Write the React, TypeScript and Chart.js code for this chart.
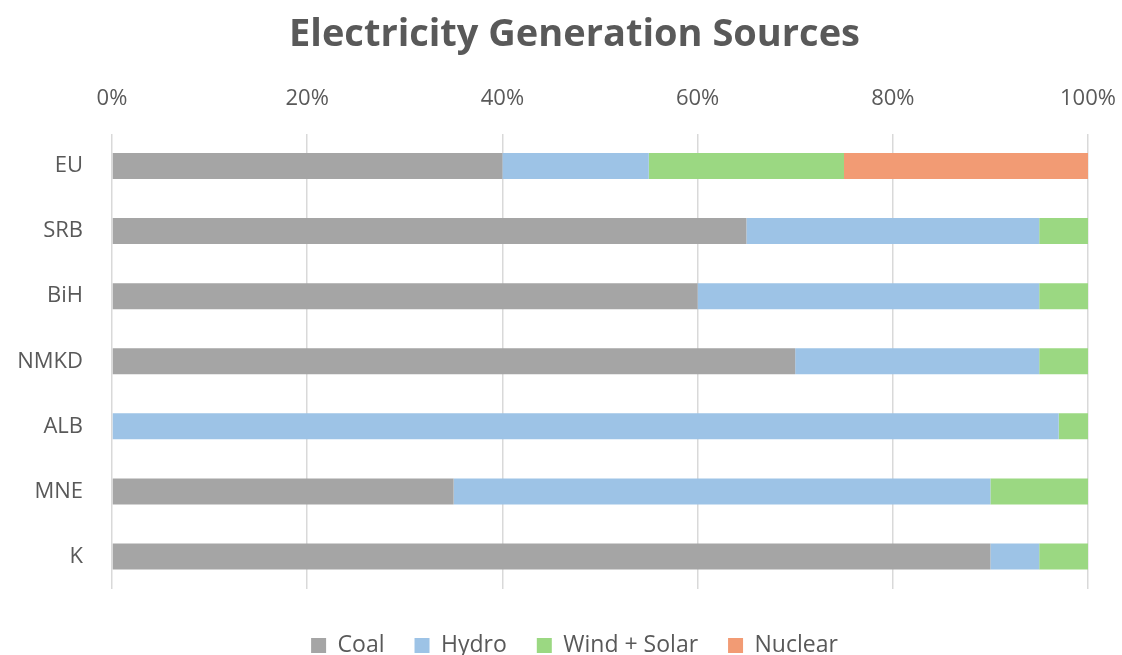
import React, { useEffect, useRef } from "react";
import { Chart, registerables } from "chart.js";

Chart.register(...registerables);

const categories = ["EU", "SRB", "BiH", "NMKD", "ALB", "MNE", "K"];
const coal = [40, 65, 60, 70, 0, 35, 90];
const hydro = [15, 30, 35, 25, 97, 55, 5];
const windSolar = [20, 5, 5, 5, 3, 10, 5];
const nuclear = [25, 0, 0, 0, 0, 0, 0];
const seriesNames = ["Coal", "Hydro", "Wind + Solar", "Nuclear"];
const seriesColors = ["#A5A5A5", "#9DC3E6", "#9BD882", "#F29B74"];
const xTicks = [0, 20, 40, 60, 80, 100];

const FONT = "'Open Sans', 'Liberation Sans', sans-serif";
const TEXT = "#595959";

export default function App() {
  const ref = useRef<HTMLCanvasElement | null>(null);
  useEffect(() => {
    document.body.style.margin = "0";
    const values = [coal, hydro, windSolar, nuclear];
    const chart = new Chart(ref.current!, {
      type: "bar",
      data: {
        labels: categories,
        datasets: seriesNames.map((n, i) => ({
          label: n,
          data: values[i],
          backgroundColor: seriesColors[i],
          borderWidth: 0,
          barPercentage: 0.4,
          categoryPercentage: 1,
          xAxisID: "x",
          yAxisID: "y",
        })),
      },
      options: {
        indexAxis: "y",
        responsive: false,
        animation: false,
        layout: { padding: { top: 12, right: 0, left: 0, bottom: 0 } },
        plugins: {
          title: {
            display: true,
            text: "Electricity Generation Sources",
            color: TEXT,
            font: { family: FONT, size: 38, weight: "bold" },
            padding: { top: 0, bottom: 0 },
          },
          legend: {
            position: "bottom",
            labels: {
              color: TEXT,
              font: { family: FONT, size: 23 },
              boxWidth: 15,
              boxHeight: 15,
              padding: 30,
            },
          },
          tooltip: { enabled: false },
        },
        scales: {
          x: {
            position: "top",
            stacked: true,
            min: 0,
            max: 100,
            afterBuildTicks: (s: any) => {
              s.ticks = xTicks.map((v) => ({ value: v }));
            },
            ticks: {
              color: TEXT,
              font: { family: FONT, size: 22 },
              padding: 22,
              callback: (v: any) => v + "%",
            },
            grid: { color: "#D9D9D9", lineWidth: 1.5, drawTicks: false },
            border: { display: false },
            afterFit: (s: any) => {
              s.height = 133.5 - 12 - 45.6;
            },
          },
          xBottom: {
            type: "linear",
            axis: "x",
            position: "bottom",
            display: true,
            min: 0,
            max: 100,
            ticks: { display: false },
            grid: { display: false, drawTicks: false },
            border: { display: false },
            afterFit: (s: any) => {
              s.height = 15;
            },
          },
          y: {
            stacked: true,
            ticks: {
              color: TEXT,
              font: { family: FONT, size: 22 },
              padding: 29,
            },
            grid: { display: false, drawTicks: false },
            border: { display: false },
            afterFit: (s: any) => {
              s.width = 112;
            },
          },
          yRight: {
            type: "linear",
            axis: "y",
            position: "right",
            display: true,
            ticks: { display: false },
            grid: { display: false, drawTicks: false },
            border: { display: false },
            afterFit: (s: any) => {
              s.width = 61;
            },
          },
        },
      },
    });
    return () => chart.destroy();
  }, []);
  return (
    <div style={{ width: 1122, height: 655, overflow: "hidden", background: "#fff" }}>
      <canvas ref={ref} width={1149} height={667} style={{ display: "block" }} />
    </div>
  );
}
